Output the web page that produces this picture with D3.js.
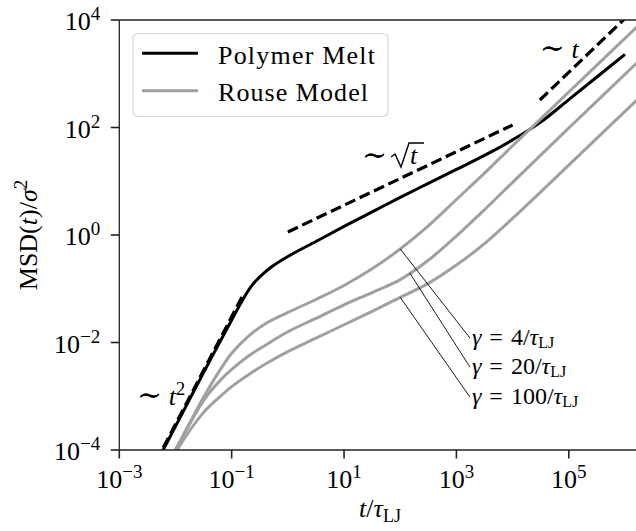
<!DOCTYPE html>
<html><head><meta charset="utf-8">
<script src="https://cdn.jsdelivr.net/npm/d3@7"></script>
<style>
html,body{margin:0;padding:0;background:#fff;}
svg{display:block;}
text{font-family:"Liberation Serif","DejaVu Serif",serif;fill:#000;}
</style></head>
<body>
<svg id="chart" width="636" height="531"></svg>
<script>
// ---- data (log10 values) ----
const meltLogT   = [-2.3, -2.0, -1.5, -1.0, -0.8, -0.65, -0.5, -0.3, 0.0, 0.5, 1.0, 1.5, 2.0, 2.5, 3.0, 3.5, 4.0, 4.5, 5.0, 5.5, 6.0];
const meltLogMSD = [-4.16, -3.56, -2.56, -1.58, -1.2, -0.95, -0.78, -0.6, -0.4, -0.12, 0.16, 0.43, 0.70, 0.96, 1.22, 1.48, 1.77, 2.1, 2.52, 2.94, 3.36];

const rouseLogT = [-2.1, -2.0, -1.5, -1.2, -1.0, -0.7, -0.4, 0.0, 0.5, 1.0, 1.5, 2.0, 2.5, 3.0, 3.5, 4.0, 5.0, 6.3];
const rouseG4   = [-4.2, -4.0, -3.02, -2.5, -2.2, -1.88, -1.65, -1.44, -1.2, -0.94, -0.63, -0.26, 0.17, 0.66, 1.15, 1.66, 2.66, 3.96];
const rouseG20  = [-4.2, -4.0, -3.08, -2.7, -2.5, -2.25, -2.05, -1.8, -1.55, -1.3, -1.07, -0.83, -0.47, -0.02, 0.47, 0.98, 1.99, 3.29];
const rouseG100 = [-4.25, -4.05, -3.3, -3.0, -2.82, -2.6, -2.4, -2.17, -1.92, -1.67, -1.42, -1.16, -0.9, -0.56, -0.16, 0.31, 1.3, 2.6];

// guide lines (power laws) : [logT, logMSD] end points
const guideT2   = [[-2.35, -4.22], [-0.79, -1.10]];
const guideSqrt = [[0.0, 0.056], [4.0, 2.047]];
const guideT    = [[4.485, 2.512], [6.2, 4.23]];

const xTicks = [1e-3, 1e-1, 1e1, 1e3, 1e5];
const yTicks = [1e-4, 1e-2, 1e0, 1e2, 1e4];
const xTickExp = ["\u22123", "\u22121", "1", "3", "5"];
const yTickExp = ["\u22124", "\u22122", "0", "2", "4"];

const gammaLabels = ["4", "20", "100"];
const gammaPointLogT = [2.0, 2.17, 2.0];
const gammaTextLogT = 3.24;
const gammaTextLogMSD = [-1.916, -2.456, -3.014];

const legendLabels = ["Polymer Melt", "Rouse Model"];
const legendWidths = [157, 150];

// ---- scales ----
const svg = d3.select("#chart");
const L = 119.3, R = 640.7, T = 20, B = 450;
const x = d3.scaleLog().domain([1e-3, Math.pow(10, 6.28)]).range([L, R]);
const y = d3.scaleLog().domain([1e-4, 1e4]).range([B, T]);
const p10 = v => Math.pow(10, v);

svg.append("defs").append("clipPath").attr("id", "clip")
  .append("rect").attr("x", L).attr("y", T).attr("width", R - L).attr("height", B - T);

const plot = svg.append("g").attr("clip-path", "url(#clip)");
const line = d3.line().x(d => x(d[0])).y(d => y(d[1])).curve(d3.curveCatmullRom.alpha(0.5));

const meltData = meltLogT.map((t, i) => [p10(t), p10(meltLogMSD[i])]);
plot.append("path").datum(meltData).attr("d", line)
  .attr("fill", "none").attr("stroke", "#000").attr("stroke-width", 3).attr("stroke-linejoin", "round");

[rouseG4, rouseG20, rouseG100].forEach(arr => {
  const data = rouseLogT.map((t, i) => [p10(t), p10(arr[i])]);
  plot.append("path").datum(data).attr("d", line)
    .attr("fill", "none").attr("stroke", "#a0a0a0").attr("stroke-width", 3).attr("stroke-linejoin", "round");
});

const lineStraight = d3.line().x(d => x(d[0])).y(d => y(d[1]));
[guideT2, guideSqrt, guideT].forEach(g => {
  plot.append("path").datum(g.map(d => [p10(d[0]), p10(d[1])])).attr("d", lineStraight)
    .attr("fill", "none").attr("stroke", "#000").attr("stroke-width", 3.2)
    .attr("stroke-dasharray", "11.1,4.8");
});

// ---- axes ----
const axisColor = "#222";
const axG = svg.append("g");
axG.append("line").attr("x1", L).attr("x2", L).attr("y1", T).attr("y2", B).attr("stroke", axisColor).attr("stroke-width", 1.3);
axG.append("line").attr("x1", L).attr("x2", R).attr("y1", B).attr("y2", B).attr("stroke", axisColor).attr("stroke-width", 1.3);
axG.append("line").attr("x1", L).attr("x2", R).attr("y1", T).attr("y2", T).attr("stroke", axisColor).attr("stroke-width", 1.3);

const fs = 26, fsSup = 19;
xTicks.forEach((v, i) => {
  const xx = x(v);
  axG.append("line").attr("x1", xx).attr("x2", xx).attr("y1", B).attr("y2", B + 8.5).attr("stroke", axisColor).attr("stroke-width", 1.6);
  const t = axG.append("text").attr("x", xx).attr("y", B + 38).attr("text-anchor", "middle").style("font-size", fs + "px");
  t.append("tspan").text("10");
  t.append("tspan").attr("dy", -10).style("font-size", fsSup + "px").text(xTickExp[i]);
});
yTicks.forEach((v, i) => {
  const yy = y(v);
  axG.append("line").attr("x1", L - 8.5).attr("x2", L).attr("y1", yy).attr("y2", yy).attr("stroke", axisColor).attr("stroke-width", 1.6);
  const t = axG.append("text").attr("x", L - 19).attr("y", yy + 10).attr("text-anchor", "end").style("font-size", fs + "px");
  t.append("tspan").text("10");
  t.append("tspan").attr("dy", -10).style("font-size", fsSup + "px").text(yTickExp[i]);
});

// x label
const xl = svg.append("text").attr("x", (L + R) / 2).attr("y", 517).attr("text-anchor", "middle").style("font-size", fs + "px");
xl.append("tspan").style("font-style", "italic").text("t");
xl.append("tspan").text("/");
xl.append("tspan").style("font-style", "italic").text("\u03C4");
xl.append("tspan").attr("dy", 5).style("font-size", "18px").text("LJ");

// y label
const yl = svg.append("text").attr("transform", `translate(37,${(T + B) / 2}) rotate(-90)`).attr("text-anchor", "middle").style("font-size", fs + "px");
yl.append("tspan").text("MSD(");
yl.append("tspan").style("font-style", "italic").text("t");
yl.append("tspan").text(")/");
yl.append("tspan").style("font-style", "italic").text("\u03C3");
yl.append("tspan").attr("dy", -10).style("font-size", fsSup + "px").text("2");

// ---- legend ----
const lg = svg.append("g");
lg.append("rect").attr("x", 133).attr("y", 33.5).attr("width", 255).attr("height", 83).attr("rx", 5)
  .attr("fill", "#fff").attr("fill-opacity", 0.8).attr("stroke", "#d6d6d6").attr("stroke-width", 1.2);
const legColors = ["#000", "#a0a0a0"];
legendLabels.forEach((lab, i) => {
  const ly = 53.3 + i * 37.4;
  lg.append("line").attr("x1", 142).attr("x2", 198).attr("y1", ly).attr("y2", ly).attr("stroke", legColors[i]).attr("stroke-width", 3);
  lg.append("text").attr("x", 218).attr("y", ly + 10.5).attr("textLength", legendWidths[i]).attr("lengthAdjust", "spacing")
    .style("font-size", fs + "px").text(lab);
});

// ---- annotations ----
const ann = svg.append("g");
const a1 = ann.append("text").attr("x", x(p10(-2.685))).attr("y", y(p10(-3.163))).style("font-size", fs + "px");
a1.append("tspan").style("font-size", "30px").text("\u223C");
a1.append("tspan").text(" ");
a1.append("tspan").style("font-style", "italic").text("t");
a1.append("tspan").attr("dy", -10).style("font-size", fsSup + "px").text("2");

{
  const ax = x(p10(1.32)), ay = y(p10(1.284));
  ann.append("text").attr("x", ax).attr("y", ay - 1).style("font-size", "30px").text("\u223C");
  ann.append("path")
    .attr("d", `M${ax + 29},${ay - 9} L${ax + 33},${ay - 12} L${ax + 39},${ay + 1} L${ax + 47},${ay - 23} L${ax + 62},${ay - 23}`)
    .attr("fill", "none").attr("stroke", "#000").attr("stroke-width", 1.4).attr("stroke-linejoin", "miter");
  ann.append("text").attr("x", ax + 48).attr("y", ay - 2).style("font-size", fs + "px").style("font-style", "italic").text("t");
}

const a3 = ann.append("text").attr("x", x(p10(4.485))).attr("y", y(p10(3.293))).style("font-size", fs + "px");
a3.append("tspan").style("font-size", "30px").text("\u223C");
a3.append("tspan").text(" ");
a3.append("tspan").style("font-style", "italic").text("t");

const rouseSets = [rouseG4, rouseG20, rouseG100];
gammaLabels.forEach((g, i) => {
  const lt = gammaPointLogT[i];
  const arr = rouseSets[i];
  let j = 0; while (j < rouseLogT.length - 2 && rouseLogT[j + 1] < lt) j++;
  const f = (lt - rouseLogT[j]) / (rouseLogT[j + 1] - rouseLogT[j]);
  const lm = arr[j] + f * (arr[j + 1] - arr[j]);
  const tx = x(p10(gammaTextLogT)), ty = y(p10(gammaTextLogMSD[i]));
  ann.append("line").attr("x1", x(p10(lt))).attr("y1", y(p10(lm))).attr("x2", tx).attr("y2", ty)
    .attr("stroke", "#000").attr("stroke-width", 0.9);
  const t = ann.append("text").attr("x", tx + 2).attr("y", ty + 7).style("font-size", "24px");
  t.append("tspan").style("font-style", "italic").text("\u03B3");
  t.append("tspan").text("\u2004=\u2004" + g + "/");
  t.append("tspan").style("font-style", "italic").text("\u03C4");
  t.append("tspan").attr("dy", 3).style("font-size", "16px").text("LJ");
});
</script>
</body></html>
